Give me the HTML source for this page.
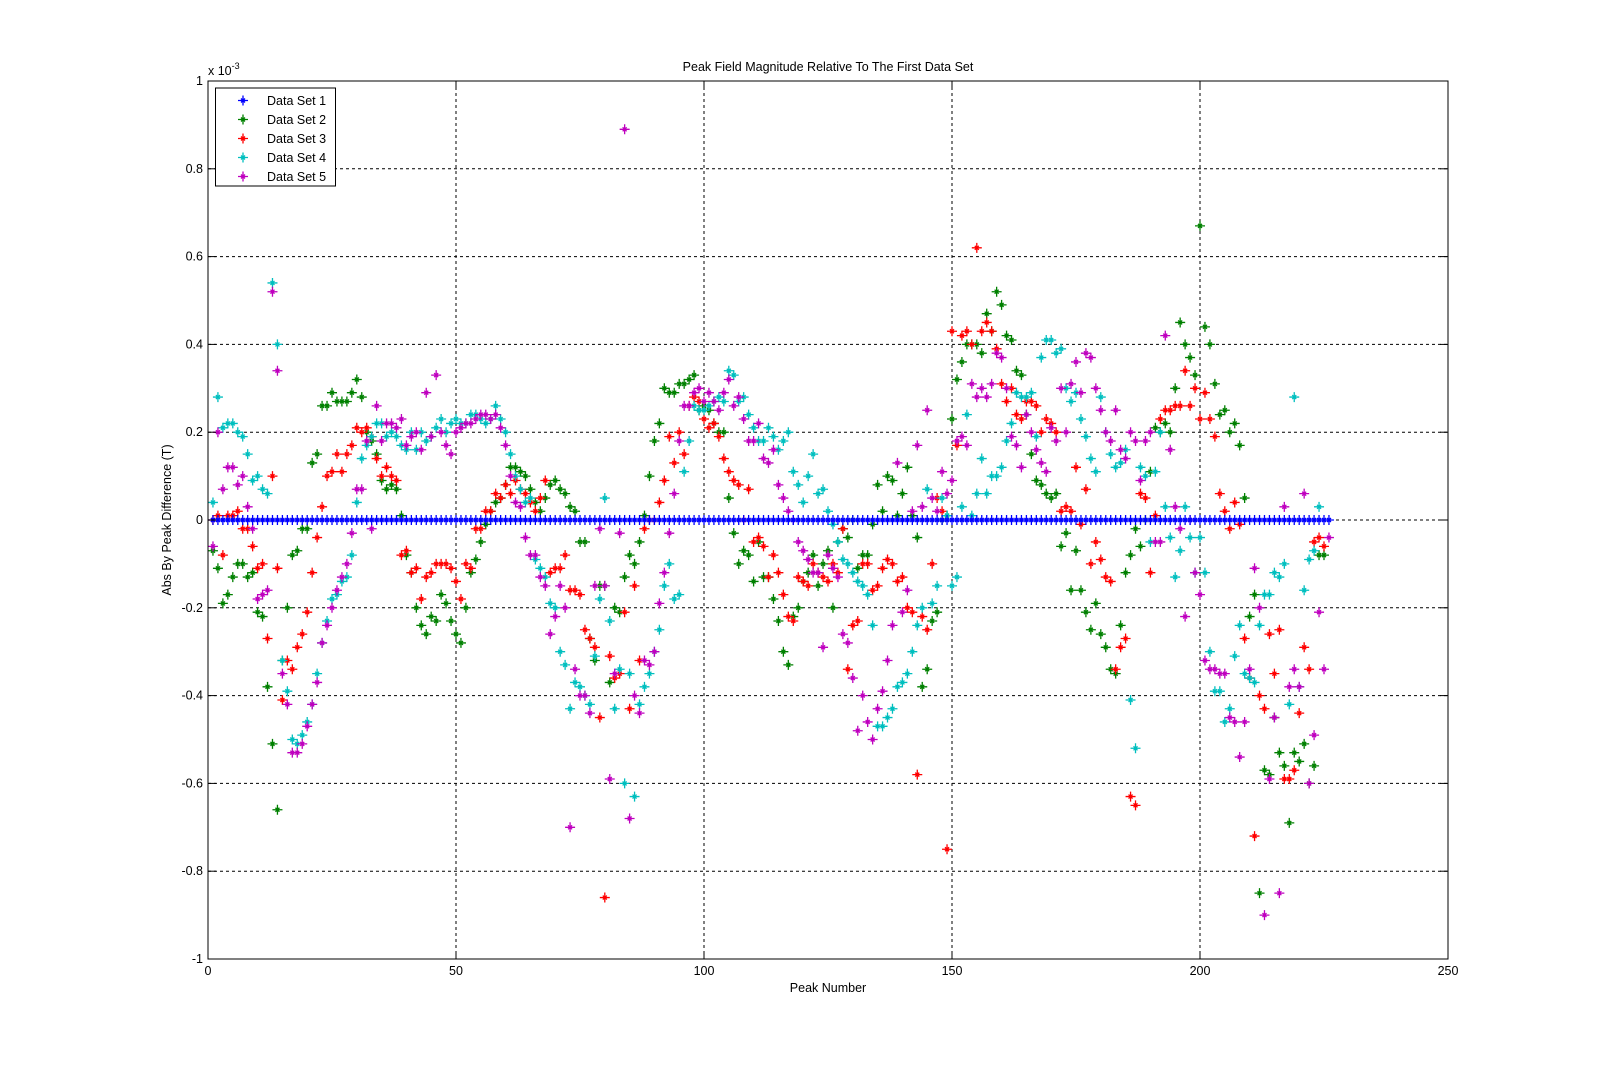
<!DOCTYPE html>
<html><head><meta charset="utf-8"><style>
body{margin:0;background:#fff;width:1600px;height:1079px;overflow:hidden}
svg{font-family:"Liberation Sans",Arial,sans-serif}
</style></head><body>
<svg id="chart" width="1600" height="1079" xmlns="http://www.w3.org/2000/svg">
<rect x="0" y="0" width="1600" height="1079" fill="#fff"/>
<g id="grid"></g>
<g id="marks"></g>
<rect x="208" y="81" width="1240" height="878" fill="none" stroke="#000" stroke-width="1"/>
<g id="ticks" font-size="12.5"></g>
<text x="828" y="71" font-size="12.5" text-anchor="middle">Peak Field Magnitude Relative To The First Data Set</text>
<text x="828" y="992" font-size="12.5" text-anchor="middle">Peak Number</text>
<text x="171" y="520" font-size="12.5" text-anchor="middle" transform="rotate(-90 171 520)">Abs By Peak Difference (T)</text>
<text x="208" y="75" font-size="12.5">x 10<tspan dy="-6" font-size="9">-3</tspan></text>
<g id="legend"></g>
</svg>
<script>
const xTicks=[0,50,100,150,200,250];
const yTicks=[-1,-0.8,-0.6,-0.4,-0.2,0,0.2,0.4,0.6,0.8,1];
const yTickLabels=["-1","-0.8","-0.6","-0.4","-0.2","0","0.2","0.4","0.6","0.8","1"];
const seriesNames=["Data Set 1","Data Set 2","Data Set 3","Data Set 4","Data Set 5"];
const seriesColors=["#0000ff","#008000","#ff0000","#00bfbf","#bf00bf"];
const set1=Array(226).fill(0);
const set2=[-0.07,-0.11,-0.19,-0.17,-0.13,-0.10,-0.10,-0.13,-0.12,-0.21,-0.22,-0.38,-0.51,-0.66,-0.32,-0.20,-0.08,-0.07,-0.02,-0.02,0.13,0.15,0.26,0.26,0.29,0.27,0.27,0.27,0.29,0.32,0.28,0.20,0.18,0.15,0.09,0.07,0.08,0.07,0.01,-0.08,-0.12,-0.20,-0.24,-0.26,-0.22,-0.23,-0.17,-0.19,-0.23,-0.26,-0.28,-0.20,-0.12,-0.09,-0.05,-0.01,0.02,0.04,0.05,0.08,0.12,0.12,0.11,0.10,0.07,0.04,0.02,0.05,0.08,0.09,0.07,0.06,0.03,0.02,-0.05,-0.05,-0.27,-0.32,-0.15,-0.15,-0.37,-0.20,-0.21,-0.13,-0.08,-0.10,-0.05,0.01,0.10,0.18,0.22,0.30,0.29,0.29,0.31,0.31,0.32,0.33,0.25,0.26,0.25,0.22,0.20,0.20,0.05,-0.03,-0.10,-0.07,-0.08,-0.14,-0.05,-0.13,-0.13,-0.18,-0.23,-0.30,-0.33,-0.22,-0.20,-0.14,-0.12,-0.08,-0.15,-0.10,-0.07,-0.20,-0.05,-0.02,-0.04,0.0,-0.11,-0.08,-0.08,-0.01,0.08,0.02,0.10,0.09,0.01,0.06,0.12,0.01,-0.04,-0.38,-0.34,-0.23,-0.21,0.00,0.01,0.23,0.32,0.36,0.40,0.40,0.40,0.38,0.47,0.43,0.52,0.49,0.42,0.41,0.34,0.33,0.24,0.15,0.09,0.08,0.06,0.05,0.06,-0.06,-0.03,-0.16,-0.07,-0.16,-0.21,-0.25,-0.19,-0.26,-0.29,-0.34,-0.35,-0.24,-0.12,-0.08,-0.02,-0.06,0.00,0.11,0.21,0.20,0.22,0.20,0.30,0.45,0.40,0.37,0.33,0.67,0.44,0.40,0.31,0.24,0.25,0.20,0.22,0.17,0.05,-0.22,-0.17,-0.85,-0.57,-0.58,-0.45,-0.53,-0.56,-0.69,-0.53,-0.55,-0.51,-0.60,-0.56,-0.08,-0.08];
const set3=[0.0,0.01,-0.08,0.01,0.01,0.02,-0.02,-0.02,-0.06,-0.11,-0.10,-0.27,0.10,-0.11,-0.41,-0.32,-0.34,-0.29,-0.26,-0.21,-0.12,-0.04,0.03,0.10,0.11,0.15,0.11,0.15,0.17,0.21,0.20,0.21,0.19,0.14,0.10,0.12,0.10,0.09,-0.08,-0.07,-0.12,-0.11,-0.18,-0.13,-0.12,-0.10,-0.10,-0.10,-0.11,-0.14,-0.18,-0.10,-0.11,-0.02,-0.02,0.02,0.02,0.06,0.05,0.08,0.06,0.09,0.07,0.06,0.04,0.02,0.05,0.09,-0.12,-0.11,-0.11,-0.08,-0.16,-0.16,-0.17,-0.25,-0.27,-0.29,-0.45,-0.86,-0.31,-0.36,-0.35,-0.21,-0.43,-0.15,-0.32,-0.02,0.00,0.00,0.04,0.09,0.19,0.13,0.20,0.15,0.26,0.28,0.27,0.23,0.21,0.22,0.19,0.14,0.11,0.09,0.08,0.00,0.07,-0.05,-0.04,-0.06,-0.13,-0.08,-0.12,-0.17,-0.22,-0.23,-0.13,-0.14,-0.15,-0.10,-0.12,-0.13,-0.14,-0.10,-0.12,-0.02,-0.34,-0.24,-0.23,-0.10,-0.10,-0.16,-0.15,-0.11,-0.09,-0.10,-0.14,-0.13,-0.20,-0.21,-0.58,-0.22,-0.25,-0.10,0.05,0.02,-0.75,0.43,0.17,0.42,0.43,0.40,0.62,0.43,0.45,0.43,0.39,0.31,0.27,0.30,0.24,0.23,0.27,0.27,0.26,0.20,0.23,0.22,0.20,0.02,0.03,0.02,0.12,-0.01,0.07,-0.10,-0.05,-0.09,-0.13,-0.14,-0.34,-0.29,-0.27,-0.63,-0.65,0.06,0.05,-0.12,0.01,0.23,0.25,0.25,0.26,0.26,0.34,0.26,0.30,0.23,0.29,0.23,0.19,0.06,0.02,-0.02,0.04,-0.01,-0.27,-0.36,-0.72,-0.40,-0.43,-0.26,-0.35,-0.25,-0.59,-0.59,-0.57,-0.44,-0.29,-0.34,-0.05,-0.04,-0.06];
const set4=[0.04,0.28,0.21,0.22,0.22,0.20,0.19,0.15,0.09,0.10,0.07,0.06,0.54,0.40,-0.32,-0.39,-0.50,-0.51,-0.49,-0.46,-0.42,-0.35,-0.28,-0.23,-0.18,-0.17,-0.14,-0.13,-0.08,0.04,0.14,0.17,0.19,0.22,0.22,0.19,0.20,0.19,0.17,0.16,0.20,0.16,0.20,0.18,0.19,0.21,0.23,0.20,0.22,0.23,0.22,0.22,0.24,0.24,0.23,0.22,0.23,0.26,0.23,0.20,0.15,0.10,0.07,0.04,0.05,-0.09,-0.11,-0.13,-0.19,-0.20,-0.30,-0.33,-0.43,-0.37,-0.38,-0.40,-0.42,-0.31,-0.18,0.05,-0.23,-0.43,-0.34,-0.60,-0.35,-0.63,-0.42,-0.38,-0.35,-0.30,-0.25,-0.15,-0.10,-0.18,-0.17,0.11,0.18,0.26,0.25,0.25,0.26,0.27,0.28,0.27,0.34,0.33,0.27,0.28,0.24,0.21,0.18,0.18,0.21,0.19,0.16,0.18,0.20,0.11,0.08,0.04,0.10,0.15,0.06,0.07,0.02,-0.01,-0.05,-0.09,-0.10,-0.12,-0.14,-0.15,-0.17,-0.24,-0.47,-0.47,-0.45,-0.43,-0.38,-0.37,-0.35,-0.30,-0.24,-0.20,0.07,-0.19,-0.15,0.05,0.01,-0.15,-0.13,0.03,0.24,0.01,0.06,0.14,0.06,0.10,0.10,0.12,0.18,0.22,0.29,0.28,0.28,0.29,0.19,0.37,0.41,0.41,0.38,0.39,0.30,0.27,0.29,0.23,0.19,0.14,0.11,0.28,0.20,0.15,0.12,0.13,0.16,-0.41,-0.52,0.12,0.10,-0.05,0.11,0.20,0.03,-0.04,-0.13,-0.07,0.03,-0.04,-0.12,-0.04,-0.12,-0.30,-0.39,-0.39,-0.46,-0.43,-0.31,-0.24,-0.35,-0.36,-0.37,-0.24,-0.17,-0.17,-0.12,-0.13,-0.10,-0.42,0.28,-0.38,-0.16,-0.09,-0.07,0.03];
const set5=[-0.06,0.20,0.07,0.12,0.12,0.08,0.10,0.03,-0.02,-0.18,-0.17,-0.16,0.52,0.34,-0.35,-0.42,-0.53,-0.53,-0.51,-0.47,-0.42,-0.37,-0.28,-0.24,-0.20,-0.16,-0.13,-0.10,-0.03,0.07,0.07,0.18,-0.02,0.26,0.18,0.22,0.22,0.21,0.23,0.17,0.19,0.20,0.16,0.29,0.19,0.33,0.20,0.17,0.15,0.20,0.21,0.22,0.22,0.23,0.24,0.24,0.23,0.24,0.21,0.17,0.10,0.04,0.03,-0.04,-0.08,-0.08,-0.13,-0.15,-0.26,-0.22,-0.15,-0.20,-0.70,-0.34,-0.40,-0.40,-0.44,-0.15,-0.02,-0.15,-0.59,-0.35,-0.03,0.89,-0.68,-0.40,-0.44,-0.32,-0.33,-0.30,-0.19,-0.12,-0.03,0.06,0.18,0.26,0.26,0.29,0.30,0.27,0.29,0.27,0.25,0.29,0.32,0.26,0.28,0.23,0.18,0.18,0.22,0.14,0.13,0.16,0.08,0.05,0.02,0.00,-0.05,-0.07,-0.09,-0.12,-0.12,-0.29,-0.08,-0.11,-0.13,-0.26,-0.28,-0.36,-0.48,-0.40,-0.46,-0.50,-0.43,-0.39,-0.32,-0.24,0.13,-0.21,-0.16,0.02,0.17,0.03,0.25,0.05,0.02,0.11,0.06,0.09,0.18,0.19,0.17,0.31,0.28,0.30,0.28,0.31,0.38,0.37,0.30,0.19,0.17,0.12,0.24,0.20,0.16,0.13,0.11,
0.21,0.18,0.30,0.20,0.31,0.36,0.29,0.38,0.37,0.30,0.25,0.20,0.18,0.25,0.16,0.14,0.20,0.18,0.09,0.18,0.20,-0.05,-0.05,0.42,0.16,0.03,-0.02,-0.22,0.0,-0.12,-0.17,-0.32,-0.34,-0.34,-0.35,-0.35,-0.45,-0.46,-0.54,-0.46,-0.34,-0.11,-0.20,-0.90,-0.59,-0.45,-0.85,0.03,-0.38,-0.34,-0.38,0.06,-0.60,-0.49,-0.21,-0.34,-0.04];
const allSeries=[set1,set2,set3,set4,set5];

const X0=208,X1=1448,Y0=959,Y1=81;
function xScale(v){return X0+(v-0)/(250-0)*(X1-X0);}
function yScale(v){return Y0-(v+1)/2*(Y0-Y1);}
const NS="http://www.w3.org/2000/svg";
function mk(tag,attrs,parent){const e=document.createElementNS(NS,tag);for(const k in attrs)e.setAttribute(k,attrs[k]);parent.appendChild(e);return e;}
const grid=document.getElementById('grid'),ticks=document.getElementById('ticks'),marks=document.getElementById('marks'),legend=document.getElementById('legend');
xTicks.forEach((t,i)=>{const x=xScale(t);
 if(t>0&&t<250){const l=mk('line',{x1:x,x2:x,y1:Y1,y2:Y0,stroke:'#000','stroke-dasharray':'3,3','stroke-width':1},grid);}
 mk('line',{x1:x,x2:x,y1:Y0,y2:Y0-8,stroke:'#000'},ticks);mk('line',{x1:x,x2:x,y1:Y1,y2:Y1+8,stroke:'#000'},ticks);
 const tx=mk('text',{x:x,y:Y0+16,'text-anchor':'middle'},ticks);tx.textContent=String(t);
 });
yTicks.forEach((t,i)=>{const y=yScale(t);
 if(i>0&&i<yTicks.length-1){const l=mk('line',{x1:X0,x2:X1,y1:y,y2:y,stroke:'#000','stroke-dasharray':'3,3','stroke-width':1},grid);}
 mk('line',{x1:X0,x2:X0+8,y1:y,y2:y,stroke:'#000'},ticks);mk('line',{x1:X1,x2:X1-8,y1:y,y2:y,stroke:'#000'},ticks);
 const tx=mk('text',{x:X0-5,y:y+4,'text-anchor':'end'},ticks);tx.textContent=yTickLabels[i];
 });
function star(cx,cy,c,parent){const s=5;
 return mk('path',{d:`M${cx-s},${cy}H${cx+s}M${cx},${cy-s}V${cy+s}M${cx-2},${cy-2}L${cx+2},${cy+2}M${cx-2},${cy+2}L${cx+2},${cy-2}`,stroke:c,'stroke-width':1.3,fill:'none'},parent);}
[1,2,3,4,0].forEach(si=>{const data=allSeries[si];
 data.forEach((v,i)=>{const p=star(xScale(i+1),yScale(v),seriesColors[si],marks);
  
  });});
mk('rect',{x:215.5,y:88,width:120,height:98,fill:'#fff',stroke:'#000'},legend);
seriesNames.forEach((n,i)=>{const y=100.5+i*19;const g=mk('g',{},legend);
 
 
 star(243,y,seriesColors[i],g);const t=mk('text',{x:267,y:y+4.5,'font-size':12.5},g);t.textContent=n;});
</script>
</body></html>
